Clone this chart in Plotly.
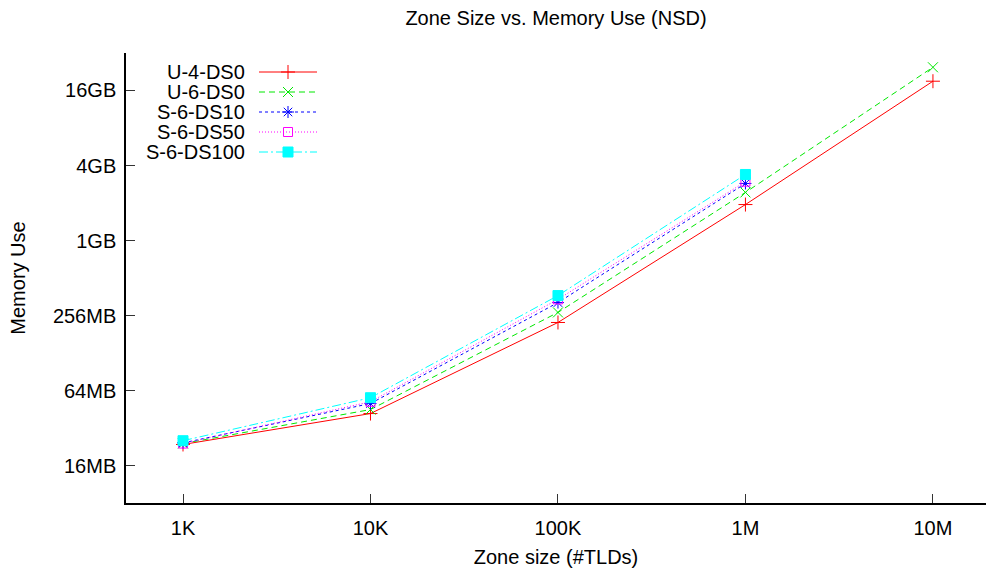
import plotly.graph_objects as go

# Zone sizes (number of TLDs) and memory use in MB
zone_sizes = [1e3, 1e4, 1e5, 1e6, 1e7]
x_ticks = [1e3, 1e4, 1e5, 1e6, 1e7]
x_tick_labels = ["1K", "10K", "100K", "1M", "10M"]
y_ticks = [16, 64, 256, 1024, 4096, 16384]
y_tick_labels = ["16MB", "64MB", "256MB", "1GB", "4GB", "16GB"]

u4_ds0 = [23.6, 41.8, 225, 1990, 19450]
u6_ds0 = [24.0, 45.0, 271, 2490, 25170]
s6_ds10 = [24.3, 50.3, 325, 2940]
s6_ds50 = [24.0, 52.0, 345, 3040]
s6_ds100 = [25.3, 56.0, 370, 3470]

FONT = "Liberation Sans, Arial, sans-serif"
FS = 20

series = [
    ("U-4-DS0", u4_ds0, "#ff0000", "solid", "cross-thin", 10),
    ("U-6-DS0", u6_ds0, "#00e800", "6px,4px", "x-thin", 10),
    ("S-6-DS10", s6_ds10, "#0000ff", "3px,3px", "asterisk-open", 10),
    ("S-6-DS50", s6_ds50, "#ff00ff", "1px,2px", "square-open", 9),
    ("S-6-DS100", s6_ds100, "#00ffff", "9px,3px,2px,3px", "square", 10),
]

fig = go.Figure()
for name, vals, color, dash, sym, size in series:
    fig.add_trace(go.Scatter(
        x=zone_sizes[:len(vals)], y=vals, mode="lines+markers", name=name,
        line=dict(color=color, width=1, dash=dash),
        marker=dict(symbol=sym, size=size, color=color,
                    line=dict(color=color, width=1)),
        showlegend=False, cliponaxis=False,
    ))

# Key: label on the left, line sample with marker on the right (pixel-like overlay axes)
row_y = [72, 92, 112, 132, 152]
for (name, vals, color, dash, sym, size), ry in zip(series, row_y):
    fig.add_trace(go.Scatter(
        x=[259, 317], y=[ry, ry], mode="lines", xaxis="x2", yaxis="y2",
        line=dict(color=color, width=1, dash=dash), showlegend=False,
        hoverinfo="skip",
    ))
    fig.add_trace(go.Scatter(
        x=[288], y=[ry], mode="markers", xaxis="x2", yaxis="y2",
        marker=dict(symbol=sym, size=size, color=color,
                    line=dict(color=color, width=1)),
        showlegend=False, hoverinfo="skip",
    ))
    fig.add_annotation(x=247, y=ry, xref="x2", yref="y2", text=name,
                       showarrow=False, xanchor="right", yanchor="middle",
                       font=dict(family=FONT, size=FS, color="black"))

fig.update_layout(
    width=986, height=571,
    margin=dict(l=126, r=0, t=53, b=68),
    paper_bgcolor="white", plot_bgcolor="white",
    font=dict(family=FONT, size=FS, color="black"),
    title=dict(text="Zone Size vs. Memory Use (NSD)", x=0.5, xref="paper",
               y=1 - 18 / 571, yref="container", yanchor="middle",
               xanchor="center", font=dict(family=FONT, size=FS)),
    xaxis=dict(type="log", range=[2.696, 7.283], tickvals=x_ticks,
               ticktext=x_tick_labels, ticks="inside", ticklen=9,
               tickcolor="#333333", tickwidth=1, showline=True, linecolor="black",
               linewidth=1.5, showgrid=False, zeroline=False, mirror=False,
               ticklabelstandoff=6,
               title=dict(text="Zone size (#TLDs)", standoff=12,
                          font=dict(family=FONT, size=FS))),
    yaxis=dict(type="log", range=[0.9031, 4.5154], tickvals=y_ticks,
               ticktext=y_tick_labels, ticks="inside", ticklen=9,
               tickcolor="#333333", tickwidth=1, showline=True, linecolor="black",
               linewidth=1.5, showgrid=False, zeroline=False, mirror=False,
               ticklabelstandoff=4,
               title=dict(text="Memory Use", standoff=22,
                          font=dict(family=FONT, size=FS))),
    xaxis2=dict(overlaying="x", range=[126, 986], visible=False,
                fixedrange=True, anchor="y2"),
    yaxis2=dict(overlaying="y", range=[503, 53], visible=False,
                fixedrange=True, anchor="x2"),
)

fig.write_html("out.html")
